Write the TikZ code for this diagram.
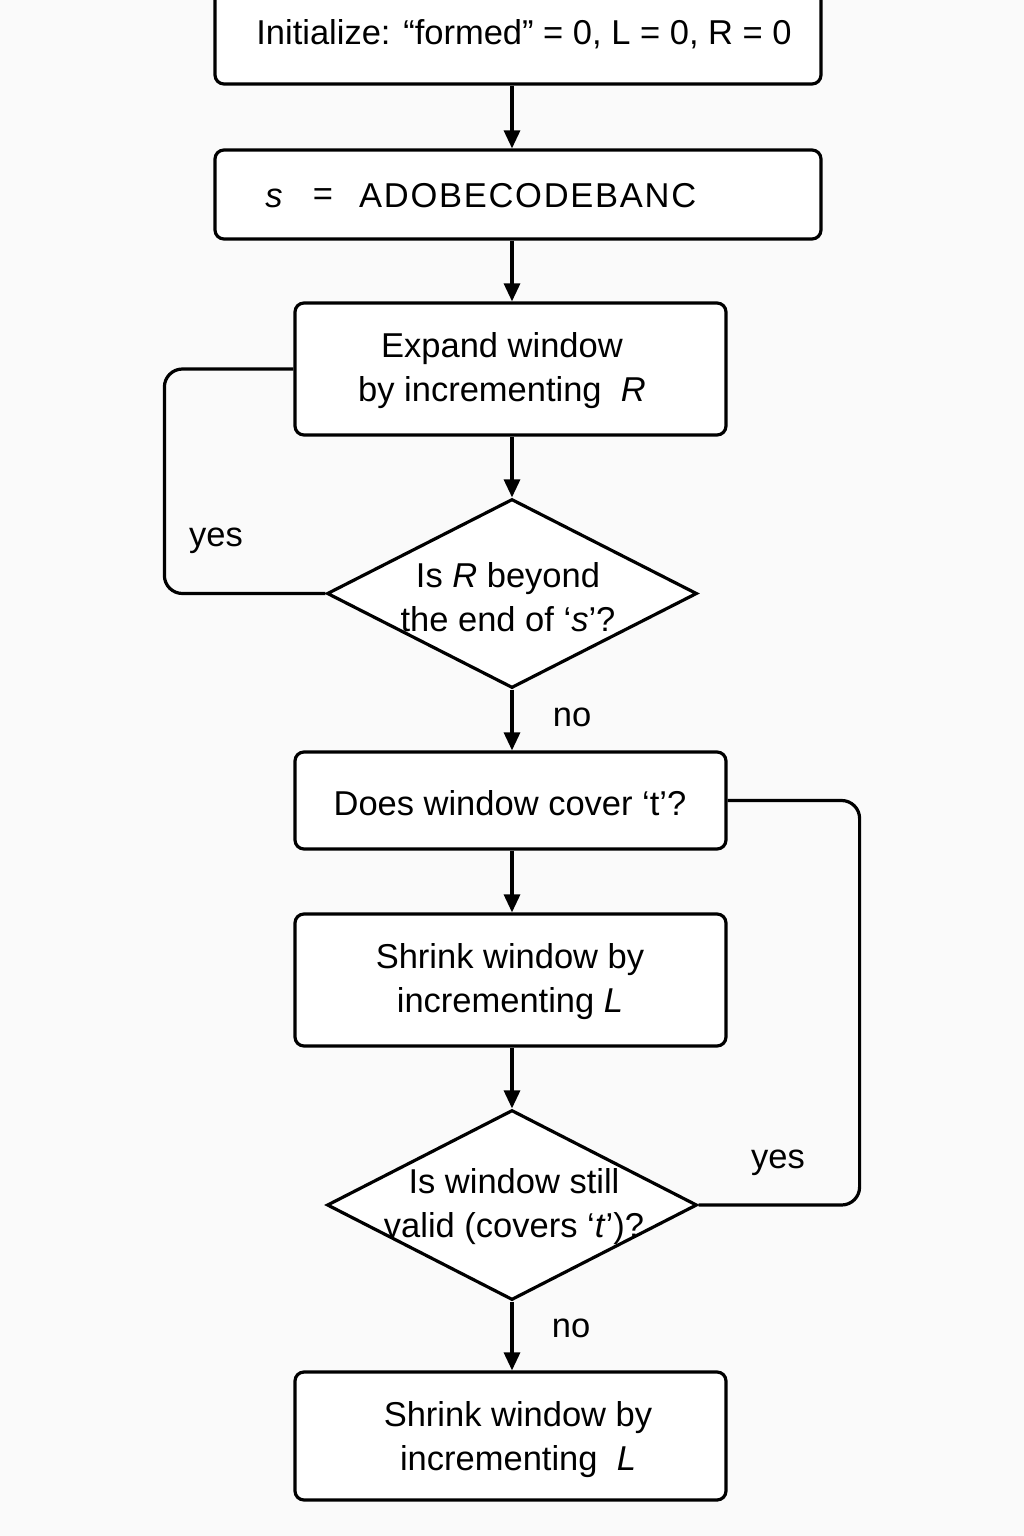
\documentclass[tikz,border=0pt]{standalone}
\usepackage{fontspec}
\setmainfont{Liberation Sans}
\usetikzlibrary{shapes.geometric,arrows.meta}
\begin{document}
\begin{tikzpicture}[x=1pt,y=-1pt,
  every node/.style={font=\fontsize{34.5}{44}\selectfont},
  box/.style={draw,line width=3.2pt,rounded corners=9pt,fill=white,inner sep=0pt,align=center},
  dia/.style={draw,line width=3.2pt,diamond,fill=white,inner sep=0pt},
  lbl/.style={inner sep=0pt,align=center},
  arr/.style={line width=3.2pt,-{Triangle[width=16pt,length=18pt]}},
  loop/.style={line width=3.2pt,rounded corners=18pt}]
\fill[black!2] (0,0) rectangle (1024,1536);
\useasboundingbox (0,0) rectangle (1024,1536);
\node[box,minimum width=606pt,minimum height=106pt] (b1) at (518,31) {};
\node[lbl] (t1) at (524,34) {Initialize: “formed” = 0, L = 0, R = 0};
\node[box,minimum width=606pt,minimum height=89pt] (b2) at (518,194.5) {};
\node[lbl] (t2s) at (274,198) {\textit{s}};
\node[lbl] (t2e) at (323,197) {=};
\node[lbl,anchor=west] (t2) at (359,196) {\addfontfeature{LetterSpace=5}ADOBECODEBANC};
\node[box,minimum width=431pt,minimum height=132pt] (b3) at (510.5,369) {};
\node[lbl] (t3) at (502,371) {Expand window\\by incrementing \ \textit{R}};
\node[dia,minimum width=370pt,minimum height=189pt] (d1) at (512,593.5) {};
\node[lbl] (t4) at (508,597) {Is \textit{R} beyond\\the end of ‘\textit{s}’?};
\node[box,minimum width=431pt,minimum height=97pt] (b4) at (510.5,800.5) {};
\node[lbl] (t5) at (510,803) {Does window cover ‘t’?};
\node[box,minimum width=431pt,minimum height=132pt] (b5) at (510.5,980) {};
\node[lbl] (t6) at (510,982) {Shrink window by\\incrementing \textit{L}};
\node[dia,minimum width=370pt,minimum height=190pt] (d2) at (512,1205) {};
\node[lbl] (t7) at (514,1207) {Is window still\\valid (covers ‘\textit{t}’)?};
\node[box,minimum width=431pt,minimum height=128pt] (b6) at (510.5,1436) {};
\node[lbl] (t8) at (518,1440) {Shrink window by\\incrementing \ \textit{L}};
\draw[arr] (b1.south -| d1.north) -- (b2.north -| d1.north);
\draw[arr] (b2.south -| d1.north) -- (b3.north -| d1.north);
\draw[arr] (b3.south -| d1.north) -- (d1.north);
\draw[arr] (d1.south) -- (b4.north -| d1.south);
\draw[arr] (b4.south -| d1.south) -- (b5.north -| d1.south);
\draw[arr] (b5.south -| d2.north) -- (d2.north);
\draw[arr] (d2.south) -- (b6.north -| d2.south);
\draw[loop] (d1.west) -| ([xshift=-129pt]b3.west) -- (b3.west);
\draw[loop] (d2.east) -| ([xshift=132pt]b4.east) -- (b4.east);
\node[lbl] (y1) at (216,541) {yes};
\node[lbl] (n1) at (572,717) {no};
\node[lbl] (y2) at (778,1163) {yes};
\node[lbl] (n2) at (571,1328) {no};
\end{tikzpicture}
\end{document}
